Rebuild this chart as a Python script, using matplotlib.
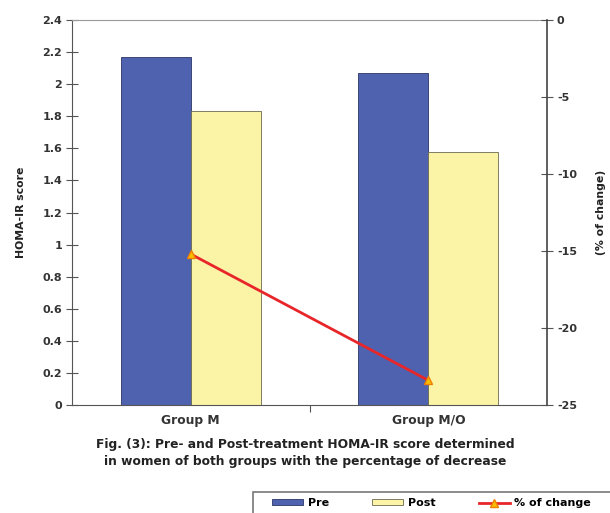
import matplotlib
matplotlib.use('Agg')
import matplotlib.pyplot as plt
from matplotlib.patches import Rectangle
import numpy as np

plt.rcParams['font.family'] = ['DejaVu Sans']
plt.rcParams['font.weight'] = 'bold'
plt.rcParams['axes.unicode_minus'] = False

groups = ['Group M', 'Group M/O']
pre = [2.17, 2.07]
post = [1.83, 1.58]
pct_change = [-15.2, -23.4]

x = np.arange(len(groups))
w = 0.295

fig = plt.figure(figsize=(6.1, 5.13), dpi=100)
ax = fig.add_axes([0.118, 0.2105, 0.779, 0.7505])

ax.bar(x - w / 2, pre, w, color='#4f62b0', edgecolor='#2c3566', linewidth=0.6, label='Pre')
ax.bar(x + w / 2, post, w, color='#fbf3a6', edgecolor='#6b6a50', linewidth=0.6, label='Post')
ax.set_xlim(-0.5, 1.5)
ax.set_ylim(0, 2.4)
ax.set_yticks(np.arange(0, 2.41, 0.2))
ax.set_yticklabels(['0', '0.2', '0.4', '0.6', '0.8', '1', '1.2', '1.4', '1.6', '1.8', '2', '2.2', '2.4'])
ax.set_ylabel('HOMA-IR score', fontsize=7.8, fontweight='bold', labelpad=12, color='#222222')
ax.set_xticks([0.5])
ax.set_xticklabels([''])
ax.tick_params(axis='x', length=5, direction='out', color='#555555')
ax.tick_params(axis='y', labelsize=8, direction='inout', length=8, color='#555555', pad=3,
               labelcolor='#333333')
for xi, g in zip(x, groups):
    ax.text(xi, -0.055, g, ha='center', va='top', fontsize=8.8, fontweight='bold',
            transform=ax.transData, color='#333333')
for s in ['left', 'bottom']:
    ax.spines[s].set_color('#555555')
ax.spines['top'].set_color('#999999')
ax.spines['right'].set_visible(False)

ax2 = ax.twinx()
ax2.plot(x, pct_change, color='#e8262a', linewidth=2, marker='^', markersize=6,
         markerfacecolor='#f7c000', markeredgecolor='#f08000', label='% of change')
ax2.set_ylim(-25, 0)
ax2.set_yticks(np.arange(-25, 1, 5))
ax2.tick_params(axis='y', labelsize=8, direction='inout', length=8, color='#555555', pad=3,
                labelcolor='#333333')
ax2.set_ylabel('(% of change)', fontsize=7.8, fontweight='bold', labelpad=14, color='#222222')
ax2.spines['right'].set_color('#444444')
ax2.spines['right'].set_linewidth(1.2)
ax2.spines['top'].set_visible(False)
ax2.spines['left'].set_visible(False)
ax2.spines['bottom'].set_visible(False)

fig.text(0.5, 0.117, 'Fig. (3): Pre- and Post-treatment HOMA-IR score determined\n'
         'in women of both groups with the percentage of decrease',
         ha='center', va='center', fontsize=8.8, fontweight='bold', linespacing=1.45, color='#222222')

# legend box runs off the bottom/right edge like in the original
fig.patches.append(Rectangle((0.415, -0.05), 0.62, 0.091, transform=fig.transFigure,
                             fill=False, edgecolor='#777777', linewidth=1.2))
h1, l1 = ax.get_legend_handles_labels()
h2, l2 = ax2.get_legend_handles_labels()
leg = fig.legend(h1 + h2, l1 + l2, ncol=3, loc='center left', bbox_to_anchor=(0.446, 0.019),
                 fontsize=8, frameon=False, handlelength=2.8, handleheight=0.5,
                 handletextpad=0.4, columnspacing=3.9, borderpad=0, borderaxespad=0)

fig.savefig('out.png', dpi=100)
